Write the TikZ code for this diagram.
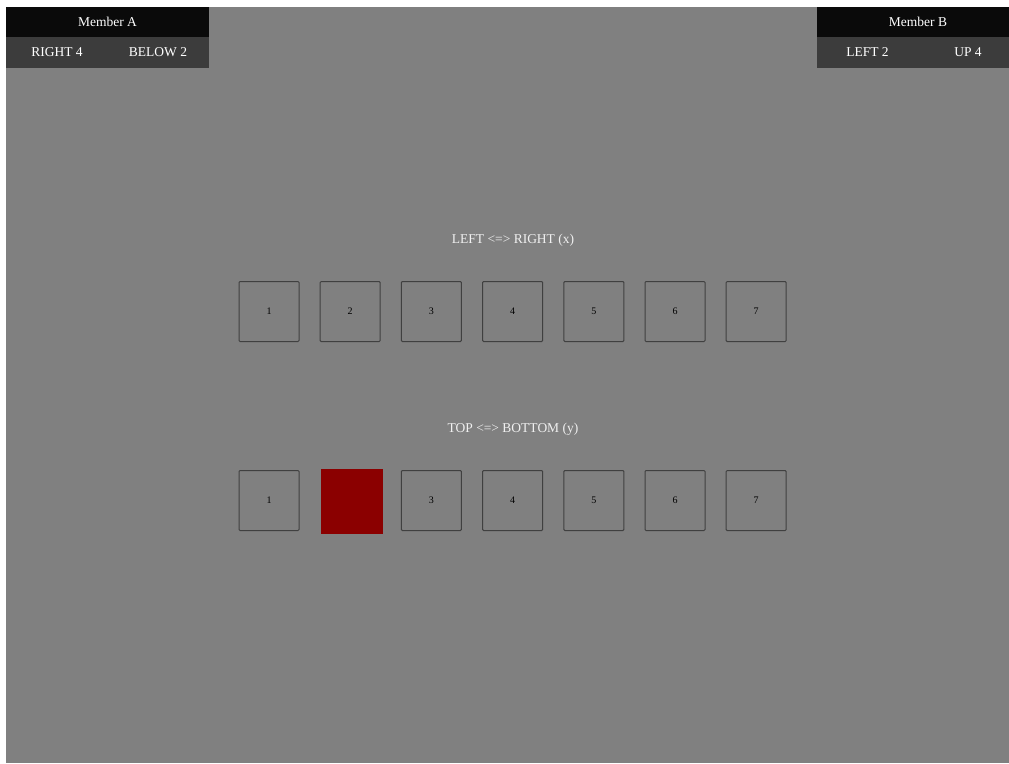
\documentclass[tikz,border=0pt]{standalone}
\usepackage{fontspec}
\setmainfont{Liberation Serif}
\definecolor{bg}{HTML}{808080}
\definecolor{hdr}{HTML}{0A0A0A}
\definecolor{sub}{HTML}{3C3C3C}
\definecolor{bord}{HTML}{404040}
\definecolor{lbl}{HTML}{F0F0F0}
\definecolor{sel}{HTML}{8B0000}
\begin{document}
\begin{tikzpicture}[x=1pt,y=-1pt,
  cell/.style={draw=bord,line width=1pt,rounded corners=1pt,minimum width=60pt,minimum height=60pt,inner sep=0pt,font=\fontsize{10}{10}\selectfont,text=black},
  hdrtext/.style={text=white,font=\fontsize{13.5}{14}\selectfont,inner sep=0pt},
  title/.style={text=lbl,font=\fontsize{13.5}{14}\selectfont,inner sep=0pt}]
\useasboundingbox (0,0) rectangle (1009,763);
\fill[white] (0,0) rectangle (1009,763);
\fill[bg] (6,7) rectangle (1009,763);
% Member A
\fill[hdr] (6,7) rectangle (209,37);
\fill[sub] (6,37) rectangle (209,68);
\node[hdrtext] (ma) at (107.5,22) {Member A};
\node[hdrtext] (ma1) at (57,52.5) {RIGHT 4};
\node[hdrtext] (ma2) at (158,52.5) {BELOW 2};
% Member B
\fill[hdr] (817,7) rectangle (1009,37);
\fill[sub] (817,37) rectangle (1009,68);
\node[hdrtext] (mb) at (918,22) {Member B};
\node[hdrtext] (mb1) at (867.5,52.5) {LEFT 2};
\node[hdrtext] (mb2) at (968,52.5) {UP 4};
% titles
\node[title] (tx) at (513,240) {LEFT <=> RIGHT (x)};
\node[title] (ty) at (513,429) {TOP <=> BOTTOM (y)};
% rows
\foreach \i [evaluate=\i as \cx using {269+81.2*(\i-1)}] in {1,...,7} {
  \node[cell] (x\i) at (\cx,311.5) {\i};
}
\foreach \i [evaluate=\i as \cx using {269+81.2*(\i-1)}] in {1,3,4,5,6,7} {
  \node[cell] (y\i) at (\cx,500.5) {\i};
}
\node[fill=sel,minimum width=62pt,minimum height=65pt,inner sep=0pt] (y2) at (352,501.5) {};
\end{tikzpicture}
\end{document}
